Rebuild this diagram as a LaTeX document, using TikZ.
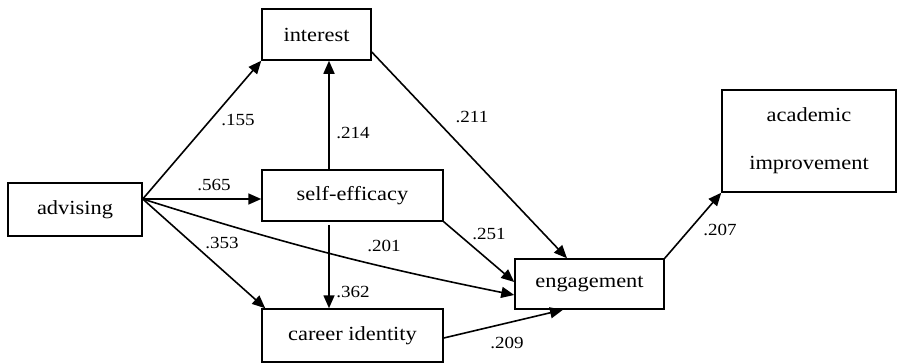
\documentclass[tikz,border=0pt]{standalone}
\usepackage{fontspec}
\setmainfont{Liberation Serif}[FakeStretch=1.12]
\usetikzlibrary{arrows.meta,calc}
\begin{document}
\begin{tikzpicture}[x=1pt,y=-1pt,
  box/.style={draw,line width=1.5pt,rectangle,inner sep=0pt,font=\fontsize{20}{22}\selectfont},
  arr/.style={line width=1.6pt,-{Triangle[length=13pt,width=11pt]}},
  lab/.style={font=\fontsize{17}{19}\selectfont,inner sep=0pt}]
\useasboundingbox (0,0) rectangle (897,364);
\node[box,minimum width=134pt,minimum height=53pt] (adv) at (75,209.5) {advising};
\node[box,minimum width=109pt,minimum height=51pt] (int) at (316.5,34.5) {interest};
\node[box,minimum width=181pt,minimum height=51pt] (se) at (352.5,195.5) {self-efficacy\hspace{14pt}};
\node[box,minimum width=181pt,minimum height=53pt] (ci) at (352.5,335.5) {career identity\hspace{8pt}};
\node[box,minimum width=149pt,minimum height=50pt] (eng) at (589.5,284) {engagement};
\node[box,minimum width=174pt,minimum height=102pt,align=center] (ai) at (809,141) {academic\\[26pt]improvement};
\coordinate (a1) at ([yshift=10.5pt]adv.east);
\draw[arr] (a1) -- (int.south west);
\draw[arr] (a1) -- (se.west |- a1);
\draw[arr] (a1) -- ([xshift=4pt]ci.north west);
\draw[arr] (a1) to[bend right=3] ([yshift=-11pt]eng.west);
\coordinate (s1) at ([xshift=-23.5pt]se.north);
\draw[arr] (s1) -- (s1 |- int.south);
\coordinate (s2) at ([xshift=-23.5pt,yshift=-3pt]se.south);
\draw[arr] (s2) -- (s2 |- ci.north);
\draw[arr] (se.south east) -- ([yshift=2pt]eng.west);
\draw[arr] ([yshift=-17.5pt]int.east) -- ([xshift=-22.5pt]eng.north);
\draw[arr] ([yshift=-2.5pt]ci.east) -- ([xshift=-26.5pt]eng.south);
\draw[arr] (eng.north east) -- (ai.south west);
\node[lab] (l155) at (238,120) {.155};
\node[lab] (l565) at (214,185) {.565};
\node[lab] (l353) at (222,243) {.353};
\node[lab] (l214) at (353,133) {.214};
\node[lab] (l211) at (472,117) {.211};
\node[lab] (l251) at (489,234) {.251};
\node[lab] (l201) at (384,246) {.201};
\node[lab] (l362) at (353,292) {.362};
\node[lab] (l209) at (507,343) {.209};
\node[lab] (l207) at (720,230) {.207};
\end{tikzpicture}
\end{document}
